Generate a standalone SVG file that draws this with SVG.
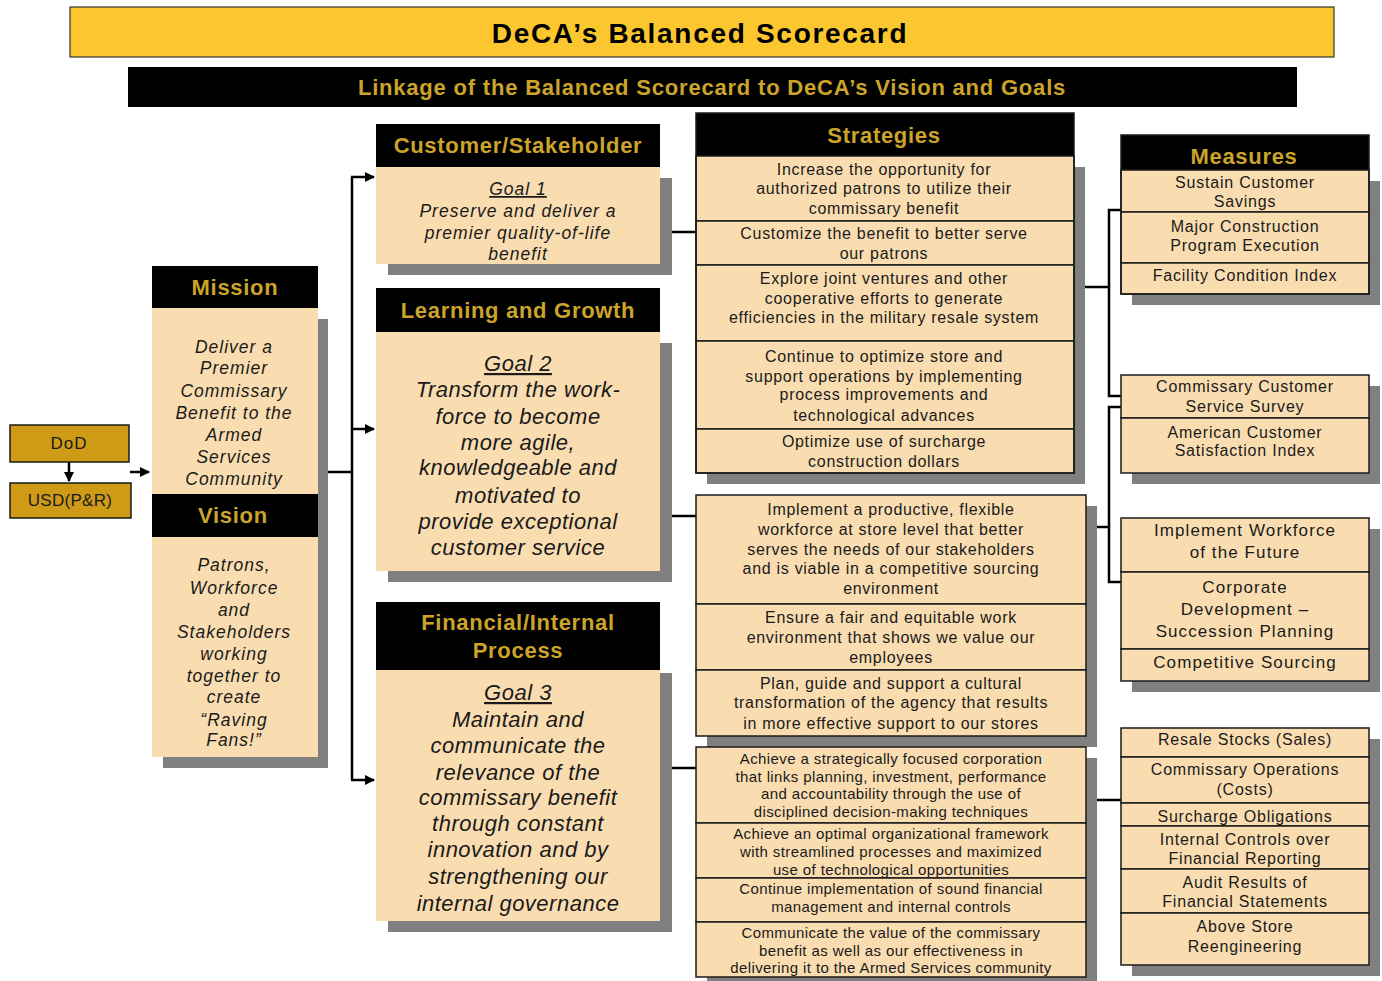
<svg xmlns="http://www.w3.org/2000/svg" width="1382" height="981" viewBox="0 0 1382 981">
  <style>
    text { font-family: "Liberation Sans", Arial, sans-serif; fill: #1a1a1a; text-anchor: middle; }
    .hdr { fill: #000; }
    .body { fill: #F9DDB1; }
    .shadow { fill: #808080; }
    .cell { fill: #F9DDB1; stroke: #1a1a1a; stroke-width: 1.5; }
    .frame { fill: none; stroke: #1a1a1a; stroke-width: 1.5; }
    .ht { font-weight: bold; fill: #CCA42A; font-size: 22px; letter-spacing: 0.7px; }
    .it { font-style: italic; font-size: 17.5px; letter-spacing: 1px; }
    .big { font-style: italic; font-size: 22px; letter-spacing: 0.5px; }
    .st { font-size: 16px; letter-spacing: 0.7px; }
    .sm { font-size: 15px; letter-spacing: 0.4px; }
    .ms { font-size: 16px; letter-spacing: 0.8px; }
    .ml { font-size: 17px; letter-spacing: 1.1px; }
    .org { fill: #CF9B17; stroke: #1a1a1a; stroke-width: 1.5; }
    .conn { stroke: #000; stroke-width: 2.5; fill: none; }
  </style>
  <defs>
    <marker id="arrow" viewBox="0 0 10 10" refX="9" refY="5" markerWidth="4" markerHeight="4" markerUnits="strokeWidth" orient="auto">
      <path d="M0,0 L10,5 L0,10 z" fill="#000"/>
    </marker>
  </defs>

  <!-- Title bars -->
  <g id="title">
    <rect x="70" y="7" width="1264" height="50" fill="#FBC62E" stroke="#333" stroke-width="1.2"/>
    <text x="700" y="43" style="font-weight:bold;font-size:28px;letter-spacing:1.7px;fill:#000">DeCA’s Balanced Scorecard</text>
  </g>
  <g id="subtitle">
    <rect x="128" y="67" width="1169" height="40" fill="#000"/>
    <text x="712" y="95" class="ht" style="font-size:22px;letter-spacing:0.8px">Linkage of the Balanced Scorecard to DeCA’s Vision and Goals</text>
  </g>

  <!-- Connectors -->
  <g id="connectors">
    <path class="conn" d="M69,462 V481" marker-end="url(#arrow)"/>
    <path class="conn" d="M130,472 H149" marker-end="url(#arrow)"/>
    <path class="conn" d="M328,472 H352"/>
    <path class="conn" d="M352,177 V780"/>
    <path class="conn" d="M351,177 H374" marker-end="url(#arrow)"/>
    <path class="conn" d="M352,429 H374" marker-end="url(#arrow)"/>
    <path class="conn" d="M351,780 H374" marker-end="url(#arrow)"/>
    <path class="conn" d="M672,232 H696"/>
    <path class="conn" d="M672,516 H696"/>
    <path class="conn" d="M672,768 H696"/>
    <path class="conn" d="M1085,287 H1109"/>
    <path class="conn" d="M1121,210 H1109 V396 H1121"/>
    <path class="conn" d="M1097,527 H1109"/>
    <path class="conn" d="M1121,407 H1109 V582 H1121"/>
    <path class="conn" d="M1097,800 H1121"/>
  </g>

  <!-- Oversight -->
  <g id="dod">
    <rect class="org" x="10" y="425" width="119" height="37"/>
    <text x="69" y="449" style="font-size:17px;letter-spacing:1px">DoD</text>
  </g>
  <g id="usd">
    <rect class="org" x="10" y="483" width="121" height="35"/>
    <text x="70" y="506" style="font-size:17px;letter-spacing:0.3px">USD(P&amp;R)</text>
  </g>

  <!-- Mission and Vision -->
  <g id="mission-vision">
    <rect class="shadow" x="163" y="319" width="165" height="449"/>
    <rect class="hdr" x="152" y="266" width="166" height="42"/>
    <text class="ht" x="235" y="295">Mission</text>
    <rect class="body" x="152" y="308" width="166" height="186"/>
    <text class="it" x="234" y="353">Deliver a</text>
    <text class="it" x="234" y="374">Premier</text>
    <text class="it" x="234" y="397">Commissary</text>
    <text class="it" x="234" y="419">Benefit to the</text>
    <text class="it" x="234" y="441">Armed</text>
    <text class="it" x="234" y="463">Services</text>
    <text class="it" x="234" y="485">Community</text>
    <rect class="hdr" x="152" y="494" width="166" height="43"/>
    <text class="ht" x="233" y="523">Vision</text>
    <rect class="body" x="152" y="537" width="166" height="220"/>
    <text class="it" x="234" y="571">Patrons,</text>
    <text class="it" x="234" y="594">Workforce</text>
    <text class="it" x="234" y="616">and</text>
    <text class="it" x="234" y="638">Stakeholders</text>
    <text class="it" x="234" y="660">working</text>
    <text class="it" x="234" y="682">together to</text>
    <text class="it" x="234" y="703">create</text>
    <text class="it" x="234" y="726">“Raving</text>
    <text class="it" x="234" y="746">Fans!”</text>
  </g>

  <!-- Goals -->
  <g id="goal-customer">
    <rect class="shadow" x="388" y="178" width="284" height="97"/>
    <rect class="hdr" x="376" y="124" width="284" height="43"/>
    <text class="ht" x="518" y="153">Customer/Stakeholder</text>
    <rect class="body" x="376" y="167" width="284" height="97"/>
    <text class="it" x="518" y="195" text-decoration="underline">Goal 1</text>
    <text class="it" x="518" y="217">Preserve and deliver a</text>
    <text class="it" x="518" y="239">premier quality-of-life</text>
    <text class="it" x="518" y="260">benefit</text>
  </g>
  <g id="goal-learning">
    <rect class="shadow" x="388" y="343" width="284" height="239"/>
    <rect class="hdr" x="376" y="288" width="284" height="44"/>
    <text class="ht" x="518" y="318">Learning and Growth</text>
    <rect class="body" x="376" y="332" width="284" height="239"/>
    <text class="big" x="518" y="371" text-decoration="underline">Goal 2</text>
    <text class="big" x="518" y="397">Transform the work-</text>
    <text class="big" x="518" y="424">force to become</text>
    <text class="big" x="518" y="450">more agile,</text>
    <text class="big" x="518" y="475">knowledgeable and</text>
    <text class="big" x="518" y="503">motivated to</text>
    <text class="big" x="518" y="529">provide exceptional</text>
    <text class="big" x="518" y="555">customer service</text>
  </g>
  <g id="goal-financial">
    <rect class="shadow" x="388" y="673" width="284" height="259"/>
    <rect class="hdr" x="376" y="602" width="284" height="68"/>
    <text class="ht" x="518" y="630">Financial/Internal</text>
    <text class="ht" x="518" y="658">Process</text>
    <rect class="body" x="376" y="670" width="284" height="251"/>
    <text class="big" x="518" y="700" text-decoration="underline">Goal 3</text>
    <text class="big" x="518" y="727">Maintain and</text>
    <text class="big" x="518" y="753">communicate the</text>
    <text class="big" x="518" y="780">relevance of the</text>
    <text class="big" x="518" y="805">commissary benefit</text>
    <text class="big" x="518" y="831">through constant</text>
    <text class="big" x="518" y="857">innovation and by</text>
    <text class="big" x="518" y="884">strengthening our</text>
    <text class="big" x="518" y="911">internal governance</text>
  </g>

  <!-- Strategies -->
  <g id="strategies-customer">
    <rect class="shadow" x="707" y="167" width="378" height="317"/>
    <rect class="hdr" x="696" y="113" width="378" height="43"/>
    <text class="ht" x="884" y="143">Strategies</text>
    <rect class="cell" x="696" y="156" width="378" height="65"/>
    <rect class="cell" x="696" y="221" width="378" height="44"/>
    <rect class="cell" x="696" y="265" width="378" height="76"/>
    <rect class="cell" x="696" y="341" width="378" height="88"/>
    <rect class="cell" x="696" y="429" width="378" height="44"/>
    <rect class="frame" x="696" y="113" width="378" height="360"/>
    <text class="st" x="884" y="175">Increase the opportunity for</text>
    <text class="st" x="884" y="194">authorized patrons to utilize their</text>
    <text class="st" x="884" y="214">commissary benefit</text>
    <text class="st" x="884" y="239">Customize the benefit to better serve</text>
    <text class="st" x="884" y="259">our patrons</text>
    <text class="st" x="884" y="284">Explore joint ventures and other</text>
    <text class="st" x="884" y="304">cooperative efforts to generate</text>
    <text class="st" x="884" y="323">efficiencies in the military resale system</text>
    <text class="st" x="884" y="362">Continue to optimize store and</text>
    <text class="st" x="884" y="382">support operations by implementing</text>
    <text class="st" x="884" y="400">process improvements and</text>
    <text class="st" x="884" y="421">technological advances</text>
    <text class="st" x="884" y="447">Optimize use of surcharge</text>
    <text class="st" x="884" y="467">construction dollars</text>
  </g>
  <g id="strategies-learning">
    <rect class="shadow" x="707" y="506" width="390" height="241"/>
    <rect class="cell" x="696" y="495" width="390" height="109"/>
    <rect class="cell" x="696" y="604" width="390" height="66"/>
    <rect class="cell" x="696" y="670" width="390" height="66"/>
    <text class="st" x="891" y="515">Implement a productive, flexible</text>
    <text class="st" x="891" y="535">workforce at store level that better</text>
    <text class="st" x="891" y="555">serves the needs of our stakeholders</text>
    <text class="st" x="891" y="574">and is viable in a competitive sourcing</text>
    <text class="st" x="891" y="594">environment</text>
    <text class="st" x="891" y="623">Ensure a fair and equitable work</text>
    <text class="st" x="891" y="643">environment that shows we value our</text>
    <text class="st" x="891" y="663">employees</text>
    <text class="st" x="891" y="689">Plan, guide and support a cultural</text>
    <text class="st" x="891" y="708">transformation of the agency that results</text>
    <text class="st" x="891" y="729">in more effective support to our stores</text>
  </g>
  <g id="strategies-financial">
    <rect class="shadow" x="707" y="758" width="390" height="230"/>
    <rect class="cell" x="696" y="747" width="390" height="76"/>
    <rect class="cell" x="696" y="823" width="390" height="55"/>
    <rect class="cell" x="696" y="878" width="390" height="44"/>
    <rect class="cell" x="696" y="922" width="390" height="55"/>
    <text class="sm" x="891" y="764">Achieve a strategically focused corporation</text>
    <text class="sm" x="891" y="782">that links planning, investment, performance</text>
    <text class="sm" x="891" y="799">and accountability through the use of</text>
    <text class="sm" x="891" y="817">disciplined decision-making techniques</text>
    <text class="sm" x="891" y="839">Achieve an optimal organizational framework</text>
    <text class="sm" x="891" y="857">with streamlined processes and maximized</text>
    <text class="sm" x="891" y="875">use of technological opportunities</text>
    <text class="sm" x="891" y="894">Continue implementation of sound financial</text>
    <text class="sm" x="891" y="912">management and internal controls</text>
    <text class="sm" x="891" y="938">Communicate the value of the commissary</text>
    <text class="sm" x="891" y="956">benefit as well as our effectiveness in</text>
    <text class="sm" x="891" y="973">delivering it to the Armed Services community</text>
  </g>

  <!-- Measures -->
  <g id="measures-customer">
    <rect class="shadow" x="1132" y="181" width="248" height="124"/>
    <rect class="hdr" x="1121" y="135" width="248" height="35"/>
    <text class="ht" x="1244" y="164">Measures</text>
    <rect class="cell" x="1121" y="170" width="248" height="42"/>
    <rect class="cell" x="1121" y="212" width="248" height="51"/>
    <rect class="cell" x="1121" y="263" width="248" height="31"/>
    <rect class="frame" x="1121" y="135" width="248" height="159"/>
    <text class="ms" x="1245" y="188">Sustain Customer</text>
    <text class="ms" x="1245" y="207">Savings</text>
    <text class="ms" x="1245" y="232">Major Construction</text>
    <text class="ms" x="1245" y="251">Program Execution</text>
    <text class="ms" x="1245" y="281">Facility Condition Index</text>
  </g>
  <g id="measures-survey">
    <rect class="shadow" x="1132" y="386" width="248" height="98"/>
    <rect class="cell" x="1121" y="375" width="248" height="43"/>
    <rect class="cell" x="1121" y="418" width="248" height="55"/>
    <text class="ms" x="1245" y="392">Commissary Customer</text>
    <text class="ms" x="1245" y="412">Service Survey</text>
    <text class="ms" x="1245" y="438">American Customer</text>
    <text class="ms" x="1245" y="456">Satisfaction Index</text>
  </g>
  <g id="measures-workforce">
    <rect class="shadow" x="1132" y="529" width="248" height="163"/>
    <rect class="cell" x="1121" y="518" width="248" height="54"/>
    <rect class="cell" x="1121" y="572" width="248" height="77"/>
    <rect class="cell" x="1121" y="649" width="248" height="32"/>
    <text class="ml" x="1245" y="536">Implement Workforce</text>
    <text class="ml" x="1245" y="558">of the Future</text>
    <text class="ml" x="1245" y="593">Corporate</text>
    <text class="ml" x="1245" y="615">Development –</text>
    <text class="ml" x="1245" y="637">Succession Planning</text>
    <text class="ml" x="1245" y="668">Competitive Sourcing</text>
  </g>
  <g id="measures-financial">
    <rect class="shadow" x="1132" y="739" width="248" height="237"/>
    <rect class="cell" x="1121" y="728" width="248" height="29"/>
    <rect class="cell" x="1121" y="757" width="248" height="46"/>
    <rect class="cell" x="1121" y="803" width="248" height="23"/>
    <rect class="cell" x="1121" y="826" width="248" height="43"/>
    <rect class="cell" x="1121" y="869" width="248" height="44"/>
    <rect class="cell" x="1121" y="913" width="248" height="52"/>
    <text class="ms" x="1245" y="745">Resale Stocks (Sales)</text>
    <text class="ms" x="1245" y="775">Commissary Operations</text>
    <text class="ms" x="1245" y="795">(Costs)</text>
    <text class="ms" x="1245" y="822">Surcharge Obligations</text>
    <text class="ms" x="1245" y="845">Internal Controls over</text>
    <text class="ms" x="1245" y="864">Financial Reporting</text>
    <text class="ms" x="1245" y="888">Audit Results of</text>
    <text class="ms" x="1245" y="907">Financial Statements</text>
    <text class="ms" x="1245" y="932">Above Store</text>
    <text class="ms" x="1245" y="952">Reengineering</text>
  </g>
</svg>
